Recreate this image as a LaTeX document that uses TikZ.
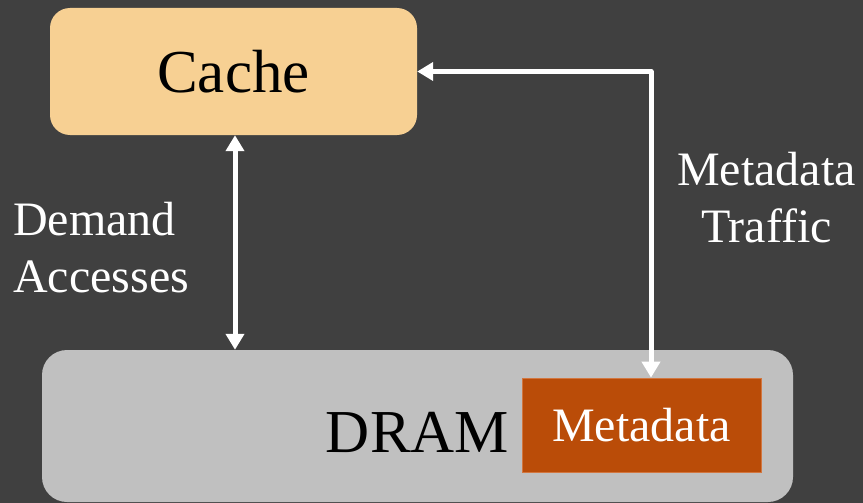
\documentclass[tikz,border=0pt]{standalone}
\usepackage{fontspec}
\setmainfont{Liberation Serif}
\usetikzlibrary{arrows.meta}
\definecolor{bgc}{HTML}{404040}
\definecolor{cachec}{HTML}{F7D093}
\definecolor{dramc}{HTML}{C0C0C0}
\definecolor{metac}{HTML}{BA4C08}
\definecolor{metab}{HTML}{D2763F}
\tikzset{
  bigtxt/.style={font=\fontsize{61}{70}\selectfont},
  midtxt/.style={font=\fontsize{48}{57}\selectfont},
  conn/.style={draw=white, line width=5pt, line join=round,
    {Triangle[width=18pt,length=16pt]}-{Triangle[width=18pt,length=16pt]}},
}
\begin{document}
\begin{tikzpicture}[x=1pt,y=-1pt]
\useasboundingbox (0,0) rectangle (863,503);
\fill[bgc] (0,0) rectangle (863,503);
\node[fill=cachec, rounded corners=20pt, minimum width=367pt, minimum height=127pt, inner sep=0pt, bigtxt, text=black] (cache) at (233.5,71.5) {Cache};
\node[fill=dramc, rounded corners=25pt, minimum width=751pt, minimum height=152pt, inner sep=0pt] (dram) at (417.5,426) {};
\node[bigtxt, anchor=base, inner sep=0pt, text=black] (dramlbl) at (417.5,452) {DRAM};
\node[fill=metac, draw=metab, line width=0.8pt, minimum width=239pt, minimum height=94pt, inner sep=0pt, midtxt, text=white] (meta) at (641.5,425) {Metadata};
\coordinate (va) at (235,0);
\coordinate (vb) at (651,0);
\draw[conn] (va |- cache.south) -- (va |- dram.north);
\draw[conn] (vb |- meta.north) |- (cache.east);
\node[midtxt, text=white, align=left, anchor=west, inner sep=0pt] (demand) at (13,247.5) {Demand\\Accesses};
\node[midtxt, text=white, align=center, inner sep=0pt] (traffic) at (766.5,198) {Metadata\\Traffic};
\end{tikzpicture}
\end{document}
